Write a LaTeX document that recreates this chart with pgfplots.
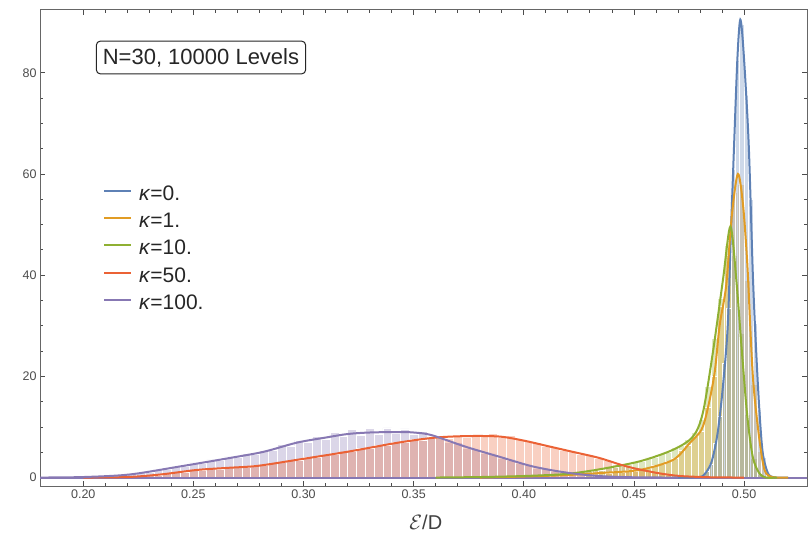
\documentclass[border=0pt]{standalone}
\usepackage{fontspec}
\setmainfont{Liberation Sans}
\usepackage{pgfplots}
\pgfplotsset{compat=1.18}
\definecolor{cb}{rgb}{0.368417,0.506779,0.709798}
\definecolor{co}{rgb}{0.880722,0.611041,0.142051}
\definecolor{cg}{rgb}{0.560181,0.691569,0.194885}
\definecolor{cr}{rgb}{0.922526,0.385626,0.209179}
\definecolor{cp}{rgb}{0.528488,0.470624,0.701351}
\begin{document}
\begin{tikzpicture}
\path[use as bounding box] (-40pt,-48.5pt) rectangle (769pt,486.5pt);
\begin{axis}[
  at={(0pt,0pt)}, anchor=south west,
  scale only axis, width=767pt, height=476.5pt,
  xmin=0.18035, xmax=0.52858, ymin=-1.77, ymax=92.4,
  xtick={0.20,0.25,0.30,0.35,0.40,0.45,0.50},
  ytick={0,20,40,60,80},
  minor x tick num=4, minor y tick num=3,
  major tick length=5pt, minor tick length=3pt,
  tick style={black!70, line width=0.8pt},
  axis line style={black!60, line width=1pt},
  xticklabel style={/pgf/number format/.cd, fixed, fixed zerofill, precision=2},
  /pgf/number format/assume math mode=true,
  tick label style={font=\fontsize{12.5}{15}\selectfont, text=black!70},
  xlabel={$\mathcal{E}$/D},
  xlabel style={at={(axis description cs:0.503,0)}, anchor=base, yshift=-43pt, font=\fontsize{20}{24}\selectfont, text=black!75},
  legend style={at={(rel axis cs:0.078,0.639)}, anchor=north west, draw=none, fill=none,
    font=\fontsize{21}{25}\selectfont, row sep=7pt, text=black!85},
  legend cell align=left,
  legend image code/.code={\draw[#1, line width=2pt] (0pt,0.3em) -- (27pt,0.3em); \path (32pt,0.3em);},
]
% histograms
\addplot[forget plot, ybar interval, fill=cp, fill opacity=0.3, draw=white, line width=0.4pt] coordinates {
(0.200,0.2)(0.204,0.3)(0.208,0.3)(0.212,0.5)(0.216,0.5)(0.220,0.7)(0.224,1.0)(0.228,1.1)
(0.232,1.6)(0.236,1.7)(0.240,2.2)(0.244,2.3)(0.248,2.9)(0.252,2.8)(0.256,3.5)(0.260,3.4)
(0.264,4.1)(0.268,4.0)(0.272,4.8)(0.276,4.6)(0.280,5.4)(0.284,5.5)(0.288,6.5)(0.292,6.2)
(0.296,7.4)(0.300,7.0)(0.304,8.1)(0.308,7.6)(0.312,8.9)(0.316,8.1)(0.320,9.5)(0.324,8.4)
(0.328,9.7)(0.332,8.6)(0.336,9.8)(0.340,8.7)(0.344,9.6)(0.348,8.6)(0.352,9.1)(0.356,8.0)
(0.360,8.1)(0.364,7.0)(0.368,6.9)(0.372,5.8)(0.376,5.6)(0.380,4.8)(0.384,4.7)(0.388,3.8)
(0.392,3.5)(0.396,2.8)(0.400,2.5)(0.404,1.9)(0.408,1.8)(0.412,1.3)(0.416,1.1)(0.420,0.8)
(0.424,0.7)(0.428,0.5)(0.432,0.3)(0.436,0.2)(0.440,0.2)(0.444,0.2)};
\addplot[forget plot, ybar interval, fill=cr, fill opacity=0.3, draw=white, line width=0.4pt] coordinates {
(0.220,0.2)(0.224,0.3)(0.228,0.5)(0.232,0.5)(0.236,0.8)(0.240,1.1)(0.244,1.1)(0.248,1.5)
(0.252,1.5)(0.256,1.8)(0.260,1.7)(0.264,2.0)(0.268,2.1)(0.272,2.1)(0.276,2.4)(0.280,2.5)
(0.284,2.8)(0.288,3.0)(0.292,3.4)(0.296,3.5)(0.300,4.0)(0.304,4.1)(0.308,4.5)(0.312,4.6)
(0.316,5.1)(0.320,5.2)(0.324,5.7)(0.328,5.8)(0.332,6.3)(0.336,6.4)(0.340,6.9)(0.344,7.0)
(0.348,7.5)(0.352,7.4)(0.356,7.9)(0.360,8.1)(0.364,7.8)(0.368,8.4)(0.372,8.0)(0.376,8.6)
(0.380,8.1)(0.384,8.7)(0.388,7.9)(0.392,8.3)(0.396,7.5)(0.400,7.2)(0.404,6.9)(0.408,6.2)
(0.412,6.0)(0.416,5.4)(0.420,5.2)(0.424,4.6)(0.428,4.4)(0.432,3.8)(0.436,3.4)(0.440,2.7)
(0.444,2.3)(0.448,1.8)(0.452,1.5)(0.456,1.1)(0.460,0.8)(0.464,0.5)(0.468,0.3)(0.472,0.2)(0.476,0.2)};
\addplot[forget plot, ybar interval, fill=cg, fill opacity=0.3, draw=white, line width=0.4pt] coordinates {
(0.428,1.2)(0.431,1.6)(0.434,1.5)(0.437,2.1)(0.440,2.0)(0.443,2.6)(0.446,2.7)(0.449,3.1)
(0.452,3.2)(0.455,3.9)(0.458,4.1)(0.461,4.8)(0.464,5.0)(0.467,5.9)(0.470,6.4)(0.473,7.6)
(0.476,8.9)(0.479,11.5)(0.482,18.0)(0.485,27.5)(0.488,35.5)(0.491,46.0)(0.494,44.0)(0.497,28.5)
(0.500,12.5)(0.503,3.8)(0.506,0.7)(0.509,0.7)};
\addplot[forget plot, ybar interval, fill=co, fill opacity=0.3, draw=white, line width=0.4pt] coordinates {
(0.437,0.9)(0.440,1.2)(0.443,1.1)(0.446,1.4)(0.449,1.3)(0.452,1.7)(0.455,1.9)(0.458,2.5)
(0.461,2.7)(0.464,3.3)(0.467,3.8)(0.470,5.4)(0.473,6.3)(0.476,8.2)(0.479,9.1)(0.482,13.9)
(0.485,20.0)(0.488,33.8)(0.491,44.0)(0.494,56.3)(0.497,58.0)(0.500,39.0)(0.503,18.5)(0.506,5.2)
(0.509,0.9)(0.512,0.9)};
\addplot[forget plot, ybar interval, fill=cb, fill opacity=0.3, draw=white, line width=0.4pt] coordinates {
(0.480,0.1)(0.482,1.3)(0.484,2.7)(0.486,6.8)(0.488,12.2)(0.490,22.5)(0.492,33.5)(0.494,61.0)
(0.496,82.5)(0.498,89.5)(0.500,75.5)(0.502,55.0)(0.504,30.5)(0.506,13.5)(0.508,4.0)(0.510,0.8)(0.512,0.8)};
% baseline
\addplot[forget plot, cp, line width=2pt] coordinates {(0.18,0) (0.53,0)};
% smooth curves
\addplot[cb, line width=2pt, smooth, tension=0.5] coordinates {
(0.468,0)(0.474,0.02)(0.478,0.08)(0.4813,0.3)(0.4851,2.9)(0.488,8.8)(0.4904,18)(0.4926,30)
(0.4940,48)(0.4955,66)(0.4970,83)(0.4983,90.5)(0.4998,84)(0.5021,66)(0.5040,40)(0.5055,25)
(0.5070,13)(0.5085,4.8)(0.5108,0.9)(0.513,0.1)(0.516,0)(0.520,0)};
\addlegendentry{\textit{κ}=0.}
\addplot[co, line width=2pt, smooth, tension=0.5] coordinates {
(0.38,0)(0.40,0.2)(0.42,0.5)(0.435,0.9)(0.4526,1.5)(0.4678,3.5)(0.4753,6.8)(0.4806,9.4)
(0.4834,13.4)(0.4866,20.6)(0.4889,30)(0.4919,38)(0.4945,52)(0.4972,60)(0.4995,54)(0.5015,42)
(0.5040,20)(0.5070,7.4)(0.5093,1.5)(0.512,0.2)(0.515,0)(0.520,0)};
\addlegendentry{\textit{κ}=1.}
\addplot[cg, line width=2pt, smooth, tension=0.5] coordinates {
(0.36,0)(0.38,0.1)(0.40,0.3)(0.419,0.7)(0.434,1.6)(0.4526,3.2)(0.4678,5.5)(0.4768,8.1)
(0.4813,12.8)(0.4858,24.6)(0.4904,39)(0.4938,49.6)(0.4965,39)(0.4990,25)(0.5015,12)(0.504,4)
(0.507,0.8)(0.510,0)(0.515,0)};
\addlegendentry{\textit{κ}=10.}
\addplot[cr, line width=2pt, smooth, tension=0.5] coordinates {
(0.20,0)(0.22,0.1)(0.235,0.6)(0.2516,1.5)(0.265,1.9)(0.279,2.3)(0.297,3.5)(0.320,5.1)
(0.343,6.9)(0.360,7.9)(0.375,8.2)(0.389,8.1)(0.400,7.3)(0.411,6.2)(0.422,5.1)(0.434,3.9)
(0.445,2.4)(0.4525,1.6)(0.462,0.8)(0.471,0.3)(0.485,0.05)(0.50,0)};
\addlegendentry{\textit{κ}=50.}
\addplot[cp, line width=2pt, smooth, tension=0.5] coordinates {
(0.18,0)(0.20,0.1)(0.221,0.6)(0.244,2.2)(0.267,3.9)(0.282,5.1)(0.297,6.9)(0.310,7.9)
(0.320,8.6)(0.330,8.9)(0.343,9.0)(0.350,8.9)(0.358,8.4)(0.3735,6.1)(0.389,4.1)(0.404,2.2)
(0.419,1.0)(0.434,0.3)(0.45,0.05)(0.47,0)};
\addlegendentry{\textit{κ}=100.}
\node[draw=black!85, line width=1pt, rounded corners=4pt, fill=white, inner xsep=6.5pt, inner ysep=7pt,
  font=\fontsize{22}{26}\selectfont, text=black!85] at (rel axis cs:0.2099,0.9003) {N=30, 10000 Levels};
\end{axis}
\end{tikzpicture}
\end{document}
